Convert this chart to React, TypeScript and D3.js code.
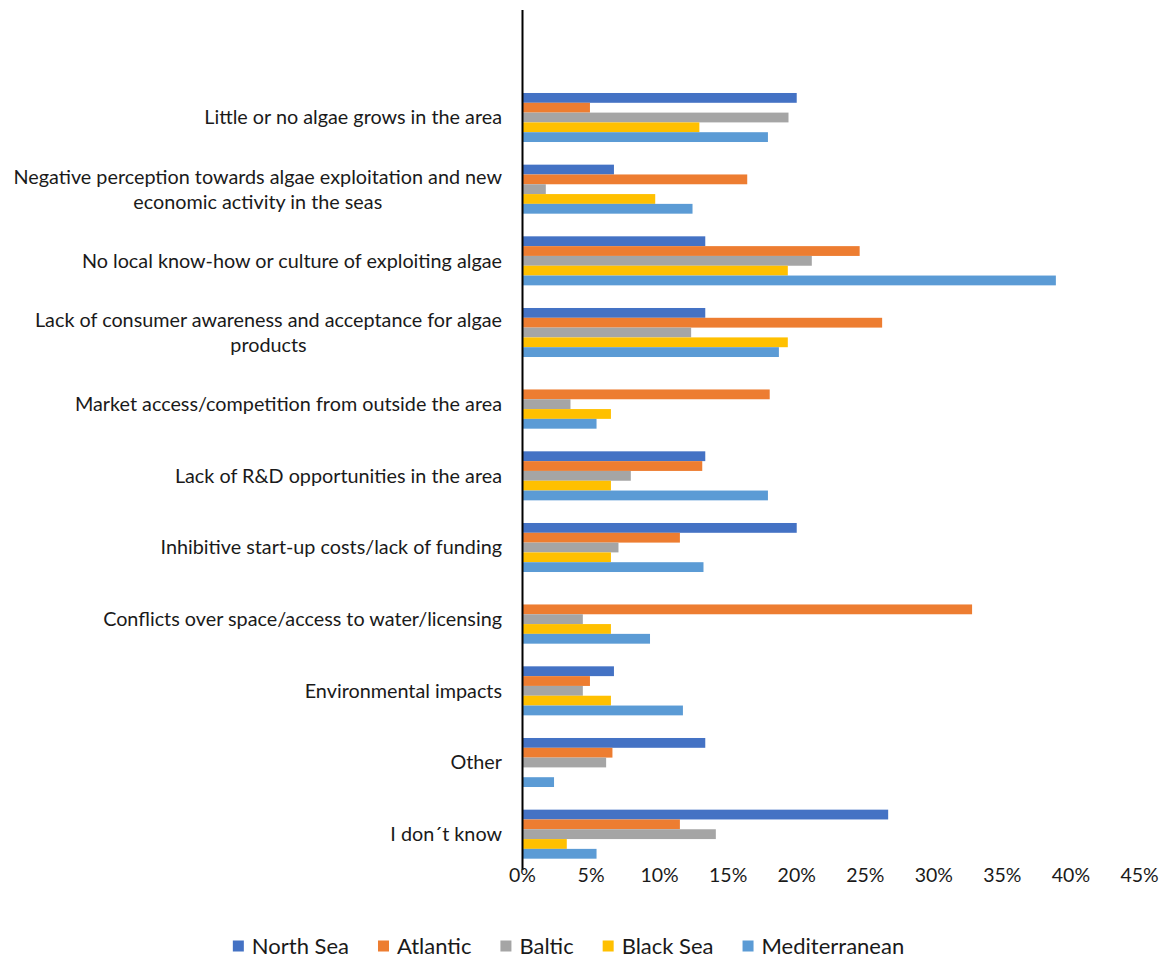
import React, { useEffect, useRef } from "react";
import * as d3 from "d3";

const categories: string[] = [
  "Little or no algae grows in the area",
  "Negative perception towards algae exploitation and new\neconomic activity in the seas",
  "No local know-how or culture of exploiting algae",
  "Lack of consumer awareness and acceptance for algae\nproducts",
  "Market access/competition from outside the area",
  "Lack of R&D opportunities in the area",
  "Inhibitive start-up costs/lack of funding",
  "Conflicts over space/access to water/licensing",
  "Environmental impacts",
  "Other",
  "I don´t know",
];

const seriesNames: string[] = ["North Sea", "Atlantic", "Baltic", "Black Sea", "Mediterranean"];
const seriesColors: string[] = ["#4472C4", "#ED7D31", "#A5A5A5", "#FFC000", "#5B9BD5"];

const northSea: number[] = [20.0, 6.67, 13.33, 13.33, 0, 13.33, 20.0, 0, 6.67, 13.33, 26.67];
const atlantic: number[] = [4.92, 16.39, 24.59, 26.23, 18.03, 13.11, 11.48, 32.79, 4.92, 6.56, 11.48];
const baltic: number[] = [19.4, 1.7, 21.1, 12.3, 3.5, 7.9, 7.0, 4.4, 4.4, 6.1, 14.1];
const blackSea: number[] = [12.9, 9.68, 19.35, 19.35, 6.45, 6.45, 6.45, 6.45, 6.45, 0, 3.23];
const mediterranean: number[] = [17.9, 12.4, 38.9, 18.7, 5.4, 17.9, 13.2, 9.3, 11.7, 2.3, 5.4];

const xTicks: number[] = [0, 5, 10, 15, 20, 25, 30, 35, 40, 45];

const seriesValues: number[][] = [northSea, atlantic, baltic, blackSea, mediterranean];

const W = 1168;
const H = 959;
const FONT = "Lato, 'Open Sans', sans-serif";

export default function App() {
  const ref = useRef<SVGSVGElement | null>(null);

  useEffect(() => {
    const svg = d3.select(ref.current);
    svg.selectAll("*").remove();

    const x0 = 522.5;
    const x = d3.scaleLinear().domain([0, 45]).range([x0, 1139.5]);
    const domain = ["__blank__", ...categories];
    const y = d3.scaleBand<string>().domain(domain).range([10, 870]).paddingInner(0.316).paddingOuter(0.158);
    const yInner = d3.scaleBand<string>().domain(seriesNames).range([0, y.bandwidth()]);

    const g = svg.append("g");
    categories.forEach((cat, ci) => {
      seriesNames.forEach((s, si) => {
        const v = seriesValues[si][ci];
        if (!v) return;
        g.append("rect")
          .attr("x", x(0))
          .attr("y", (y(cat) as number) + (yInner(s) as number))
          .attr("width", x(v) - x(0))
          .attr("height", yInner.bandwidth())
          .attr("fill", seriesColors[si]);
      });
    });

    // axis line
    svg.append("line")
      .attr("x1", x(0)).attr("x2", x(0))
      .attr("y1", 10).attr("y2", 870)
      .attr("stroke", "#000").attr("stroke-width", 2);

    // category labels
    const labelG = svg.append("g").attr("font-family", FONT).attr("font-size", 19.8).attr("fill", "#1a1a1a");
    categories.forEach((cat) => {
      const lines = cat.split("\n");
      const cy = (y(cat) as number) + y.bandwidth() / 2;
      const lh = 25;
      const t = labelG.append("text").attr("text-anchor", "middle");
      lines.forEach((ln, i) => {
        t.append("tspan")
          .attr("x", 0)
          .attr("y", cy + (i - (lines.length - 1) / 2) * lh)
          .attr("dy", "0.35em")
          .text(ln);
      });
      let maxW = 0;
      t.selectAll<SVGTSpanElement, unknown>("tspan").each(function () {
        maxW = Math.max(maxW, this.getComputedTextLength());
      });
      t.selectAll("tspan").attr("x", 502 - maxW / 2);
    });

    // x tick labels
    const tickG = svg.append("g").attr("font-family", FONT).attr("font-size", 19.5).attr("fill", "#1a1a1a");
    xTicks.forEach((tv) => {
      tickG.append("text")
        .attr("x", x(tv))
        .attr("y", 875)
        .attr("dy", "0.35em")
        .attr("text-anchor", "middle")
        .text(`${tv}%`);
    });

    // legend
    const legG = svg.append("g").attr("font-family", FONT).attr("font-size", 22).attr("fill", "#1a1a1a");
    let lx = 0;
    const items: { g: any; w: number }[] = [];
    seriesNames.forEach((s, i) => {
      const ig = legG.append("g");
      ig.append("rect").attr("x", 0).attr("y", -5.5).attr("width", 11).attr("height", 11).attr("fill", seriesColors[i]);
      const tt = ig.append("text").attr("x", 19).attr("y", 0).attr("dy", "0.35em").text(s);
      const w = 19 + (tt.node() as SVGTextElement).getComputedTextLength();
      items.push({ g: ig, w });
    });
    const gap = 29;
    const total = items.reduce((a, b) => a + b.w, 0) + gap * (items.length - 1);
    lx = 568.5 - total / 2;
    items.forEach((it) => {
      it.g.attr("transform", `translate(${lx},946)`);
      lx += it.w + gap;
    });
  }, []);

  return (
    <div style={{ position: "absolute", left: 0, top: 0 }}>
      <svg ref={ref} width={W} height={H} style={{ display: "block", background: "#fff" }} />
    </div>
  );
}
